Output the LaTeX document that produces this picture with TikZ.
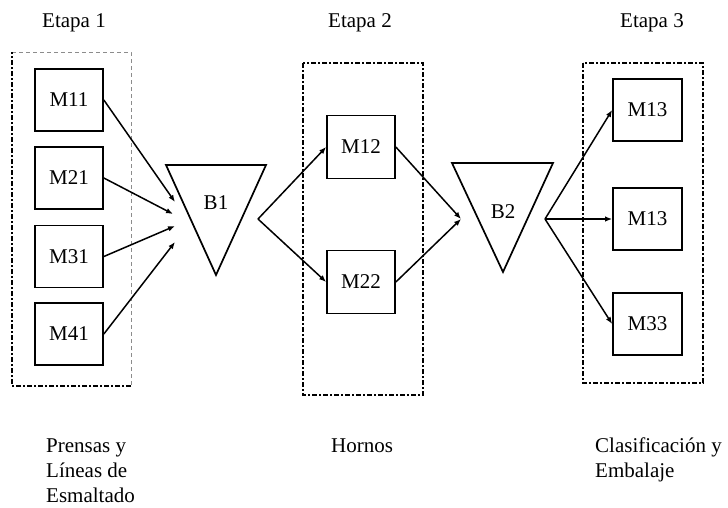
\documentclass[tikz,border=0pt]{standalone}
\usepackage{fontspec}
\setmainfont{Liberation Serif}
\usetikzlibrary{arrows.meta}
\begin{document}
\begin{tikzpicture}[x=1pt,y=-1pt,
  mbox/.style={draw,line width=1.7pt,minimum width=68pt,minimum height=62pt,inner sep=0pt,font=\fontsize{21}{25}\selectfont},
  lbl/.style={anchor=base west,inner sep=0pt,font=\fontsize{21}{25}\selectfont},
  grp/.style={line width=2.4pt,dash pattern=on 5pt off 2pt on 2pt off 2pt},
  grplight/.style={line width=0.8pt,draw=black!45,dash pattern=on 4pt off 3pt},
  tri/.style={line width=1.7pt,line join=miter},
  flow/.style={line width=1.5pt,-{Latex[length=7pt,width=5.5pt]}}]
\useasboundingbox (0,0) rectangle (728,507);
% titles
\node[lbl] (e1) at (42,27) {Etapa 1};
\node[lbl] (e2) at (328,27) {Etapa 2};
\node[lbl] (e3) at (620,27) {Etapa 3};
% group boxes
\coordinate (g1a) at (12,52);
\coordinate (g1b) at (131,52);
\coordinate (g1c) at (131,386);
\coordinate (g1d) at (12,386);
\draw[grplight] (g1a) -- (g1b) -- (g1c);
\draw[grp] (g1c) -- (g1d) -- (g1a);
\coordinate (g2a) at (303,63);
\coordinate (g2c) at (423,395);
\draw[grp] (g2a) rectangle (g2c);
\coordinate (g3a) at (583,63);
\coordinate (g3c) at (703,383);
\draw[grp] (g3a) rectangle (g3c);
% stage 1 machines
\node[mbox] (M11) at (69,100) {M11};
\node[mbox] (M21) at (69,178) {M21};
\node[mbox] (M31) at (69,256.5) {M31};
\node[mbox] (M41) at (69,334) {M41};
% buffer B1
\coordinate (b1tl) at (166,165);
\coordinate (b1tr) at (266,165);
\coordinate (b1b) at (216,275);
\draw[tri] (b1tl) -- (b1tr) -- (b1b) -- cycle;
\node[inner sep=0pt,font=\fontsize{21}{25}\selectfont] (B1) at (216,203) {B1};
\coordinate (b1i1) at (175,202);
\coordinate (b1i2) at (173,214);
\coordinate (b1i3) at (175,226);
\coordinate (b1i4) at (175,242);
\coordinate (b1o) at (258,219);
\draw[flow] (M11.east) -- (b1i1);
\draw[flow] (M21.east) -- (b1i2);
\draw[flow] (M31.east) -- (b1i3);
\draw[flow] (M41.east) -- (b1i4);
% stage 2
\node[mbox,minimum height=63pt] (M12) at (361,147) {M12};
\node[mbox,minimum height=63pt] (M22) at (361,282) {M22};
\draw[flow] (b1o) -- (M12.west);
\draw[flow] (b1o) -- (M22.west);
% buffer B2
\coordinate (b2tl) at (452,163);
\coordinate (b2tr) at (553,163);
\coordinate (b2b) at (503,272);
\draw[tri] (b2tl) -- (b2tr) -- (b2b) -- cycle;
\node[inner sep=0pt,font=\fontsize{21}{25}\selectfont] (B2) at (503,212) {B2};
\coordinate (b2i) at (461,219);
\coordinate (b2o) at (545,219);
\draw[flow] (M12.east) -- (b2i);
\draw[flow] (M22.east) -- (b2i);
% stage 3
\node[mbox,minimum width=69pt] (M13a) at (647.5,110) {M13};
\node[mbox,minimum width=69pt] (M13b) at (647.5,219) {M13};
\node[mbox,minimum width=69pt] (M33) at (647.5,324) {M33};
\draw[flow] (b2o) -- (M13a.west);
\draw[flow] (b2o) -- (M13b.west);
\draw[flow] (b2o) -- (M33.west);
% bottom labels
\node[lbl] (p1) at (46,452) {Prensas y};
\node[lbl] (p2) at (46,477) {Líneas de};
\node[lbl] (p3) at (46,502) {Esmaltado};
\node[lbl] (h1) at (331,452) {Hornos};
\node[lbl] (c1) at (595,452) {Clasificación y};
\node[lbl] (c2) at (595,477) {Embalaje};
\end{tikzpicture}
\end{document}
